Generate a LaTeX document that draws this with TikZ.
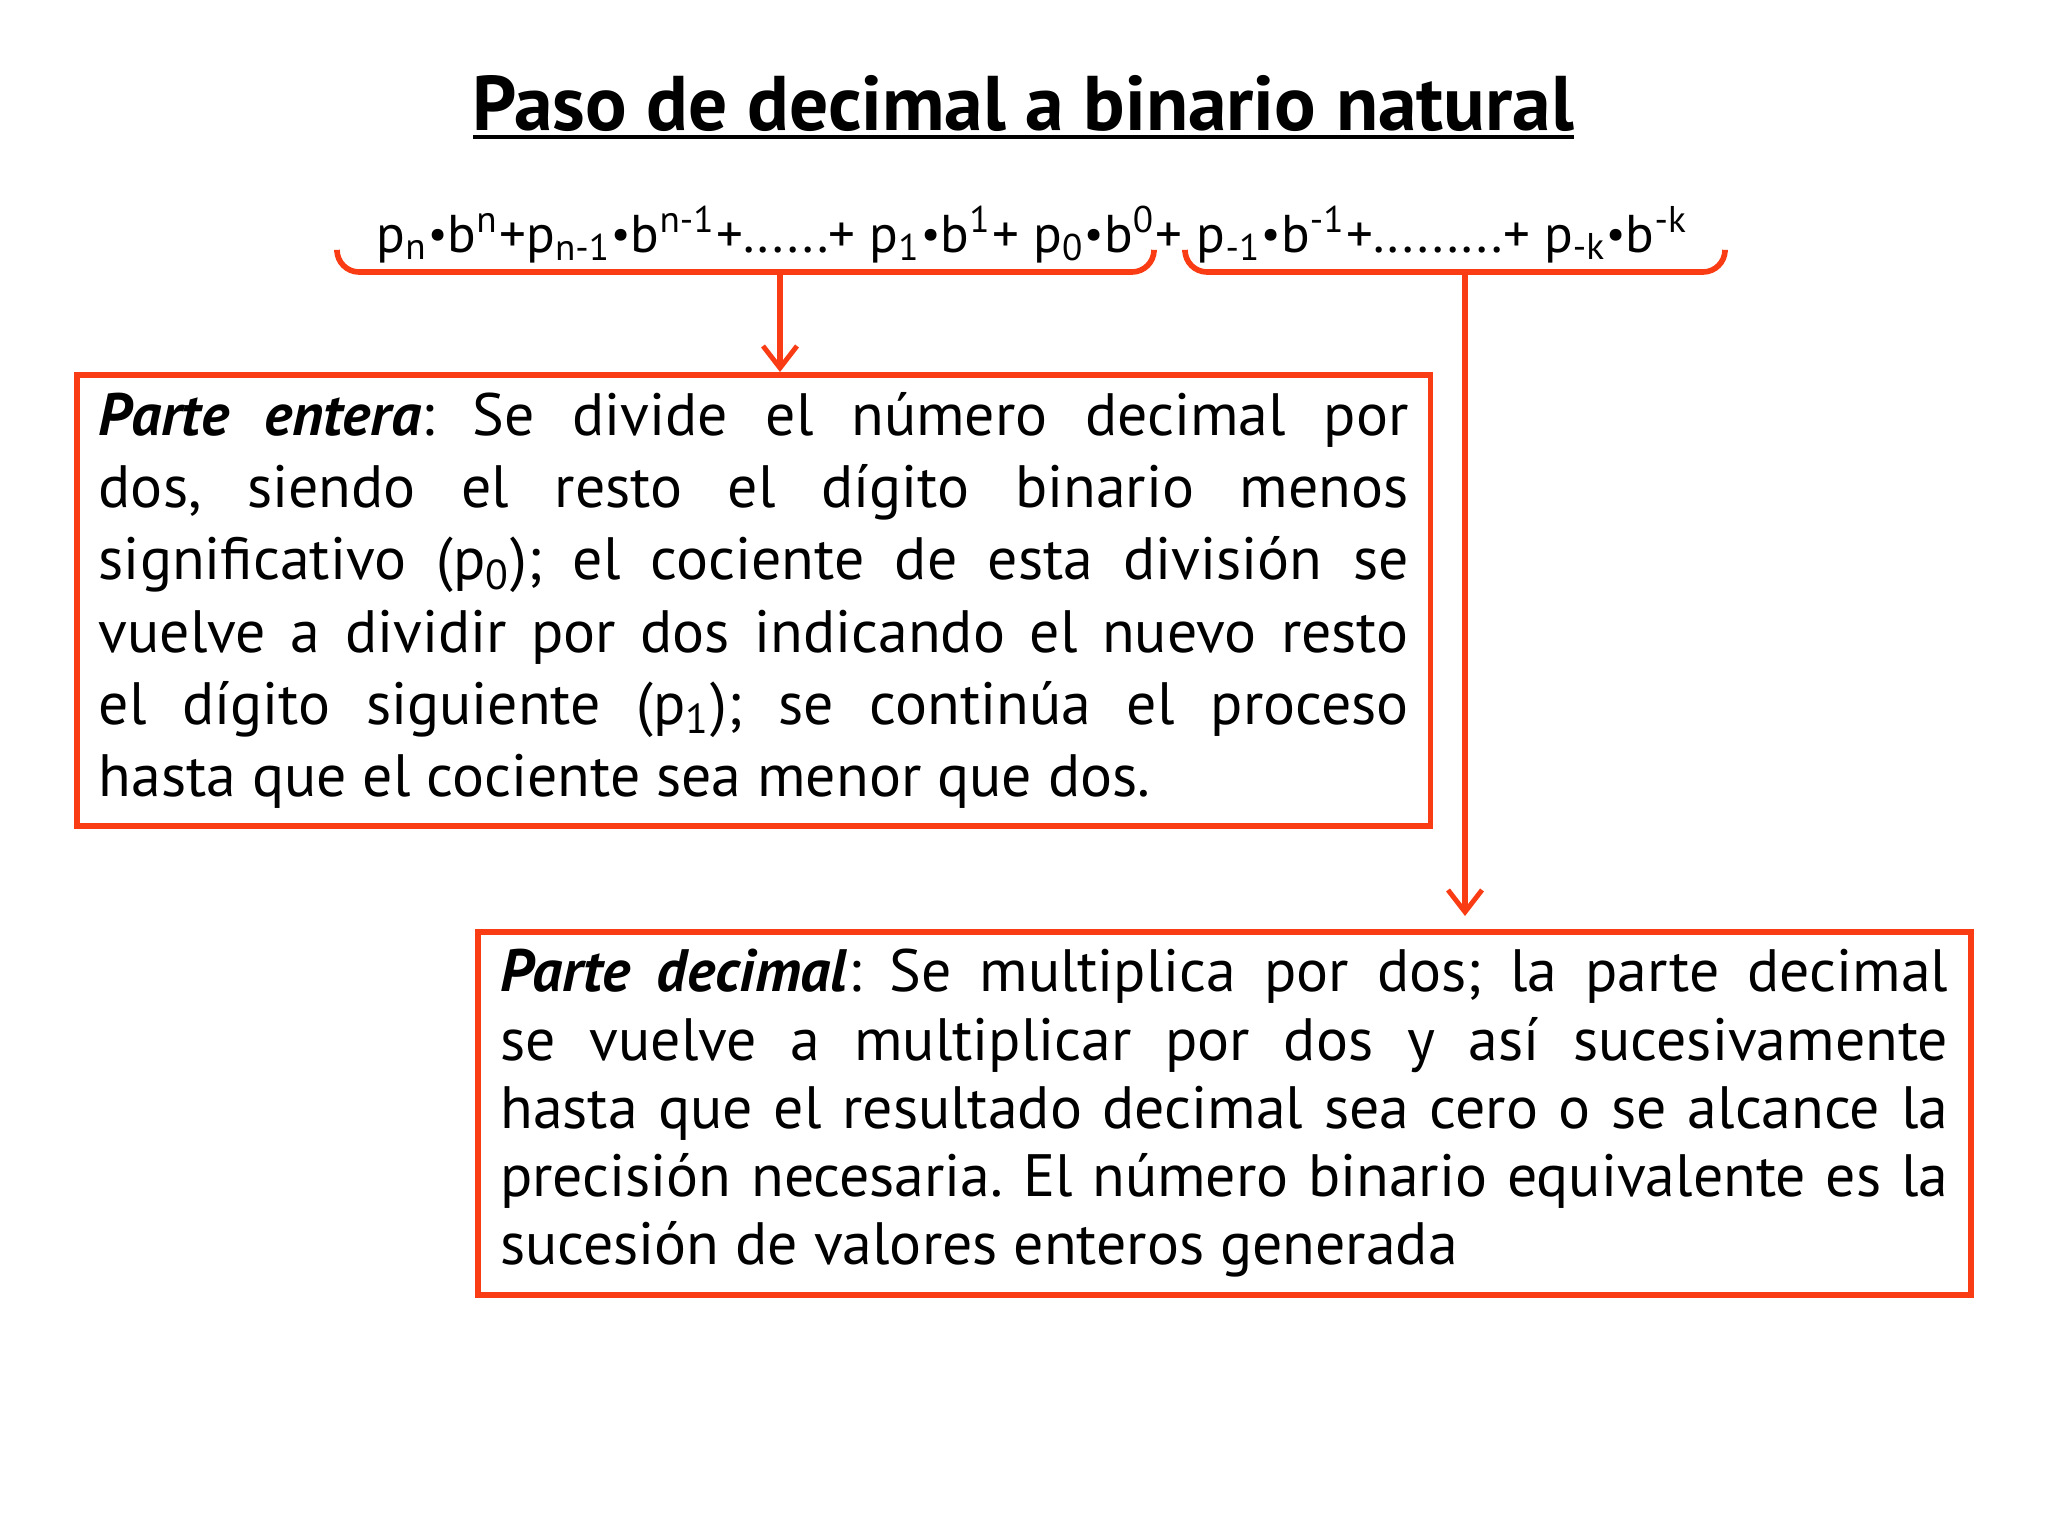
\documentclass[tikz,border=0pt]{standalone}
\usepackage{fontspec}
\setmainfont{PT Sans}
\usetikzlibrary{arrows.meta}
\definecolor{rojo}{RGB}{250,60,20}
\frenchspacing
\tikzset{
  box/.style={draw=rojo, line width=1.6pt, rectangle, inner sep=0pt, align=left, fill=white},
  conn/.style={draw=rojo, line width=1.6pt, -{Straight Barb[length=0.22cm, width=0.34cm, line width=1.4pt]}},
  brace/.style={draw=rojo, line width=1.6pt, rounded corners=0.22cm},
}
\newcommand{\pdot}{\raisebox{0.12ex}{\scalebox{0.8}{•}}}
\begin{document}
\begin{tikzpicture}[x=0.01cm, y=-0.01cm]
\useasboundingbox[fill=white] (0,0) rectangle (2048,1536);

% title
\node[anchor=base, inner sep=0pt] (title) at (1023,130)
  {\resizebox{11.01cm}{!}{\bfseries Paso de decimal a binario natural}};
\draw[line width=1.3pt] (473,137) -- (1574,137);

% formula
\node[anchor=base west, inner sep=0pt] (formula) at (376,252)
  {\resizebox{13.11cm}{!}{p\textsubscript{n}\pdot b\textsuperscript{n}+p\textsubscript{n-1}\pdot b\textsuperscript{n-1}+......+ p\textsubscript{1}\pdot b\textsuperscript{1}+ p\textsubscript{0}\pdot b\textsuperscript{0}+ p\textsubscript{-1}\pdot b\textsuperscript{-1}+.........+ p\textsubscript{-k}\pdot b\textsuperscript{-k}}};

% braces
\draw[brace] (337,252) -- (337,272) -- (1154,272) -- (1154,252);
\draw[brace] (1185,252) -- (1185,272) -- (1725,272) -- (1725,252);
\coordinate (bl) at (780,272);
\coordinate (br) at (1465,272);

% box 1
\node[box, anchor=north west, minimum width=13.53cm, minimum height=4.51cm,
      font={\fontsize{17pt}{20.5pt}\selectfont}] (b1) at (74,372)
{\makebox[13.09cm][s]{\textbf{\textit{Parte entera}}: Se divide el número decimal por}\\
 \makebox[13.09cm][s]{dos, siendo el resto el dígito binario menos}\\
 \makebox[13.09cm][s]{significativo (p\textsubscript{0}); el cociente de esta división se}\\
 \makebox[13.09cm][s]{vuelve a dividir por dos indicando el nuevo resto}\\
 \makebox[13.09cm][s]{el dígito siguiente (p\textsubscript{1}); se continúa el proceso}\\
 hasta que el cociente sea menor que dos.};

% box 2
\node[box, anchor=north west, minimum width=14.92cm, minimum height=3.63cm,
      font={\fontsize{17pt}{19.4pt}\selectfont}] (b2) at (475,929)
{\makebox[14.47cm][s]{\textbf{\textit{Parte decimal}}: Se multiplica por dos; la parte decimal}\\
 \makebox[14.47cm][s]{se vuelve a multiplicar por dos y así sucesivamente}\\
 \makebox[14.47cm][s]{hasta que el resultado decimal sea cero o se alcance la}\\
 \makebox[14.47cm][s]{precisión necesaria. El número binario equivalente es la}\\
 sucesión de valores enteros generada};

% connectors
\draw[conn] (bl) -- (bl |- b1.north);
\draw[conn, shorten >=0.13cm] (br) -- (br |- b2.north);
\end{tikzpicture}
\end{document}
